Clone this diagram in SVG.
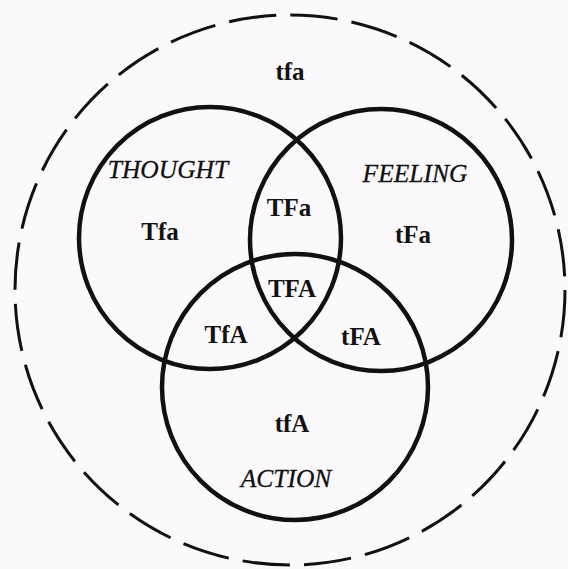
<svg xmlns="http://www.w3.org/2000/svg" width="568" height="569" viewBox="0 0 568 569">
<style>
.ring{fill:none;stroke:#111;stroke-width:4.5}
.outer{fill:none;stroke:#111;stroke-width:3;stroke-dasharray:47.5 14.2}
.lbl{font-family:"Liberation Serif",serif;font-weight:bold;font-size:25px;fill:#111;text-anchor:middle}
.name{font-family:"Liberation Serif",serif;font-style:italic;font-size:25.5px;fill:#111;stroke:#111;stroke-width:0.3;text-anchor:middle}
</style>
<rect width="568" height="569" fill="#fcf9fc"/>
<g id="universe">
<circle class="outer" cx="290" cy="290" r="275"/>
<text class="lbl" x="290" y="80">tfa</text>
</g>
<g id="thought">
<circle class="ring" cx="210" cy="238" r="131"/>
<text class="name" x="168" y="178">THOUGHT</text>
<text class="lbl" x="160" y="240">Tfa</text>
</g>
<g id="feeling">
<circle class="ring" cx="381" cy="240" r="131"/>
<text class="name" x="415" y="182">FEELING</text>
<text class="lbl" x="413" y="243">tFa</text>
</g>
<g id="action">
<circle class="ring" cx="295" cy="387" r="133"/>
<text class="lbl" x="292" y="432">tfA</text>
<text class="name" x="286" y="487">ACTION</text>
</g>
<g id="overlaps">
<text class="lbl" x="289" y="216">TFa</text>
<text class="lbl" x="292" y="297">TFA</text>
<text class="lbl" x="226" y="343">TfA</text>
<text class="lbl" x="361" y="345">tFA</text>
</g>
<g id="connectors"/>
</svg>
